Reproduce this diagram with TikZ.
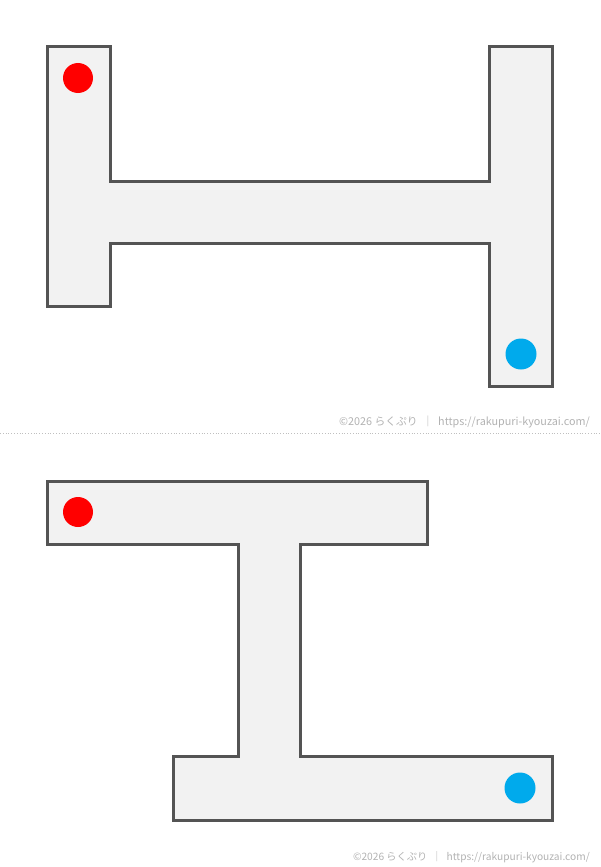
\documentclass[tikz,border=0pt]{standalone}
\usepackage{fontspec}
\setmainfont{Noto Sans CJK JP}
\usetikzlibrary{positioning}

\begin{document}
\begin{tikzpicture}[x=1pt, y=-1pt, line join=miter]
            \tikzstyle{maze}=[draw=black!67, line width=3pt, fill=black!5]
            \tikzstyle{start}=[fill=red]
            \tikzstyle{goal}=[fill={rgb,255:red,0;green,170;blue,236}]
            \tikzstyle{credit}=[text=black!30, anchor=east, inner sep=0pt]

            \useasboundingbox (0,0) rectangle (600,867);

            % upper maze
            \draw[maze] (47,47) -- (110,47) -- (110,181) -- (489,181) -- (489,47) -- (552,47)
              -- (552,386) -- (489,386) -- (489,243) -- (110,243) -- (110,306) -- (47,306) -- cycle;
            \fill[start] (78,78) circle (15);
            \fill[goal] (521,354) circle (15.5);

            \node[credit, font=\fontsize{10.8}{12}\selectfont] (credit1) at (590,422)
              {©2026\ らくぷり \ ｜ \ https://rakupuri-kyouzai.com/};
            \draw[black!25, line width=0.8pt, dotted] (0,433) -- (600,433);

            % lower maze
            \draw[maze] (47,481) -- (427,481) -- (427,544) -- (300,544) -- (300,756) -- (552,756)
              -- (552,820) -- (173,820) -- (173,756) -- (238,756) -- (238,544) -- (47,544) -- cycle;
            \fill[start] (78,512) circle (15);
            \fill[goal] (520,788) circle (15.5);

            \node[credit, font=\fontsize{10.2}{12}\selectfont] (credit2) at (590,857)
              {©2026\ らくぷり \ ｜ \ https://rakupuri-kyouzai.com/};
          \end{tikzpicture}
\end{document}
